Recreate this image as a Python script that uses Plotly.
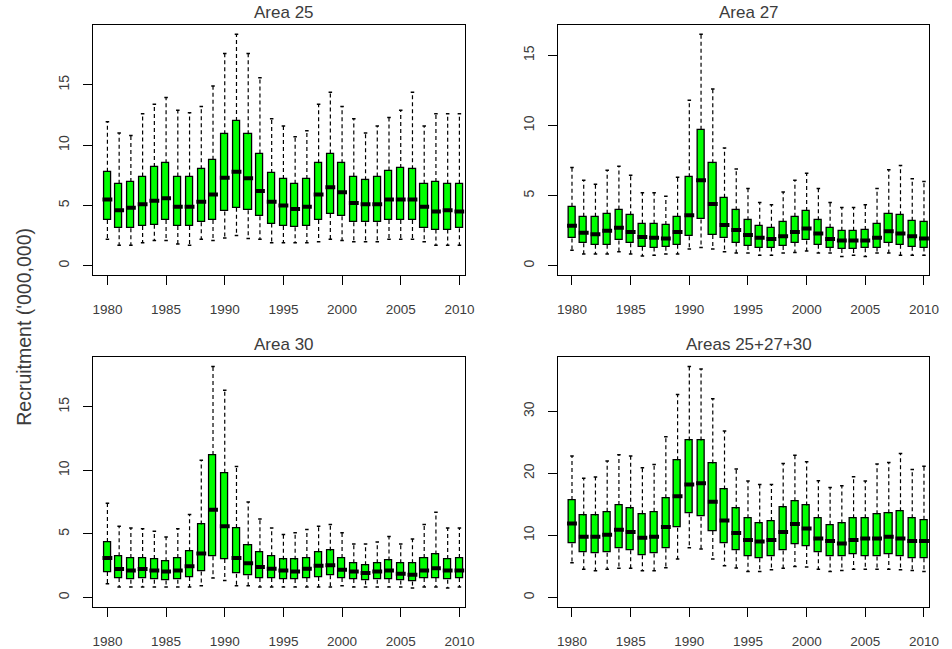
import plotly.graph_objects as go

# Recruitment boxplots by year: whisker ends, quartiles and medians ('000,000)
years = list(range(1980, 2011))
xtick_vals = [1980, 1985, 1990, 1995, 2000, 2005, 2010]

titles = ["Area 25", "Area 27", "Area 30", "Areas 25+27+30"]
ytick_sets = [[0, 5, 10, 15], [0, 5, 10, 15], [0, 5, 10, 15], [0, 10, 20, 30]]

lo25 = [2.2, 1.7, 1.7, 1.9, 2.1, 2.1, 1.8, 1.7, 2.2, 2.1, 2.3, 2.5, 2.25, 2.2, 1.9, 1.9,
        1.9, 1.9, 2.0, 2.2, 2.1, 2.0, 2.0, 2.0, 2.2, 2.2, 2.2, 2.0, 1.7, 1.7, 1.7]
q1_25 = [3.8, 3.1, 3.1, 3.3, 3.4, 3.8, 3.3, 3.3, 3.6, 3.8, 4.5, 4.8, 4.6, 4.1, 3.5, 3.3,
         3.2, 3.3, 3.8, 4.3, 4.1, 3.6, 3.6, 3.6, 3.8, 3.8, 3.8, 3.1, 3.0, 3.0, 3.1]
med25 = [5.5, 4.6, 4.8, 5.1, 5.4, 5.6, 4.9, 4.9, 5.3, 5.9, 7.3, 7.8, 7.25, 6.2, 5.3, 5.0,
         4.7, 4.9, 5.9, 6.5, 6.1, 5.2, 5.1, 5.1, 5.5, 5.5, 5.5, 4.9, 4.5, 4.6, 4.5]
q3_25 = [7.8, 6.8, 6.95, 7.4, 8.2, 8.5, 7.4, 7.4, 8.0, 8.8, 10.9, 12.0, 10.9, 9.3, 7.7, 7.2,
         6.8, 7.2, 8.5, 9.3, 8.5, 7.4, 7.1, 7.4, 7.9, 8.1, 8.0, 6.8, 6.95, 6.8, 6.8]
hi25 = [11.95, 11.0, 10.8, 12.6, 13.4, 13.95, 12.9, 12.7, 13.2, 14.9, 17.6, 19.2, 17.6, 15.6,
        12.2, 11.6, 10.7, 11.2, 13.4, 14.4, 13.2, 12.2, 11.0, 11.6, 12.3, 12.9, 14.4, 11.6,
        12.6, 12.6, 12.6]

lo27 = [1.1, 0.83, 0.83, 0.83, 1.0, 0.83, 0.7, 0.75, 0.83, 0.83, 1.2, 1.3, 1.2, 1.0, 0.9, 0.9,
        0.75, 0.75, 0.9, 0.95, 1.05, 0.9, 0.9, 0.65, 0.75, 0.65, 0.9, 0.9, 0.75, 0.75, 0.75]
q1_27 = [1.95, 1.6, 1.5, 1.5, 1.8, 1.6, 1.35, 1.3, 1.35, 1.5, 2.1, 3.3, 2.2, 1.95, 1.65, 1.4,
         1.3, 1.3, 1.4, 1.65, 1.8, 1.5, 1.3, 1.2, 1.2, 1.25, 1.3, 1.65, 1.5, 1.35, 1.3]
med27 = [2.85, 2.35, 2.25, 2.5, 2.7, 2.4, 2.05, 2.0, 1.95, 2.4, 3.6, 6.1, 4.4, 2.9, 2.55, 2.2,
         2.0, 1.9, 2.1, 2.4, 2.65, 2.3, 1.9, 1.8, 1.8, 1.8, 2.0, 2.45, 2.3, 2.1, 1.95]
q3_27 = [4.2, 3.5, 3.5, 3.7, 4.0, 3.6, 3.0, 3.0, 2.9, 3.5, 6.3, 9.7, 7.3, 4.85, 3.95, 3.25,
         2.85, 2.7, 3.1, 3.5, 3.9, 3.25, 2.7, 2.5, 2.5, 2.55, 3.0, 3.7, 3.6, 3.2, 3.1]
hi27 = [7.0, 6.1, 5.8, 6.8, 7.1, 6.45, 5.2, 5.2, 4.95, 6.3, 11.8, 16.5, 12.6, 8.4, 6.9, 5.5,
        4.5, 4.35, 5.25, 6.1, 6.6, 5.5, 4.5, 4.15, 4.15, 4.35, 5.5, 6.85, 7.15, 6.2, 6.0]

lo30 = [1.08, 0.82, 0.82, 0.82, 0.82, 0.82, 0.82, 0.82, 0.92, 1.53, 1.34, 0.92, 0.92, 0.82,
        0.82, 0.82, 0.82, 0.82, 0.82, 0.82, 0.92, 0.82, 0.82, 0.82, 0.82, 0.82, 0.74, 0.82,
        0.82, 0.74, 0.82]
q1_30 = [2.0, 1.53, 1.4, 1.47, 1.4, 1.34, 1.4, 1.6, 2.05, 3.24, 3.03, 1.87, 1.74, 1.53, 1.53,
         1.45, 1.45, 1.53, 1.6, 1.74, 1.53, 1.45, 1.34, 1.4, 1.45, 1.34, 1.26, 1.53, 1.53, 1.4,
         1.53]
med30 = [3.1, 2.24, 2.13, 2.24, 2.13, 2.05, 2.13, 2.45, 3.45, 6.9, 5.6, 3.1, 2.7, 2.4, 2.26,
         2.13, 2.05, 2.26, 2.5, 2.53, 2.18, 2.05, 1.92, 2.05, 2.13, 1.87, 1.79, 2.13, 2.3, 2.13,
         2.13]
q3_30 = [4.37, 3.24, 3.1, 3.1, 3.03, 2.84, 3.1, 3.63, 5.74, 11.2, 9.8, 5.47, 4.08, 3.55, 3.24,
         2.97, 2.97, 3.1, 3.55, 3.68, 3.1, 2.7, 2.53, 2.7, 2.9, 2.7, 2.7, 3.1, 3.37, 3.03, 3.1]
hi30 = [7.4, 5.6, 5.47, 5.4, 5.2, 4.76, 5.4, 6.53, 10.8, 18.16, 16.3, 10.3, 7.5, 6.18, 5.47,
        4.95, 5.08, 5.34, 5.6, 5.74, 5.08, 4.2, 4.2, 4.37, 4.8, 4.2, 4.6, 5.74, 6.7, 5.47, 5.47]

lo_all = [5.6, 4.55, 4.3, 4.55, 4.7, 4.7, 4.3, 4.3, 4.8, 6.2, 8.0, 7.8, 6.2, 5.1, 4.75, 4.2,
          4.2, 4.45, 4.7, 5.0, 4.9, 4.55, 4.2, 4.35, 4.55, 4.55, 4.55, 4.55, 4.45, 4.35, 4.2]
q1_all = [8.7, 7.3, 7.1, 7.2, 7.9, 7.6, 6.8, 7.1, 7.9, 11.25, 13.55, 13.0, 10.7, 8.7, 7.6, 6.7,
          6.3, 6.6, 7.55, 8.6, 8.3, 7.3, 6.6, 6.6, 7.0, 6.7, 6.6, 7.0, 6.6, 6.3, 6.3]
med_all = [11.9, 9.8, 9.8, 10.1, 10.9, 10.55, 9.6, 9.8, 11.35, 16.3, 18.2, 18.4, 15.4, 12.4,
           10.4, 9.27, 9.0, 9.27, 10.55, 11.85, 11.1, 9.5, 9.1, 8.7, 9.27, 9.5, 9.5, 9.8, 9.5,
           9.1, 9.1]
q3_all = [15.7, 13.2, 13.2, 13.8, 14.9, 14.3, 13.4, 13.8, 16.0, 22.1, 25.3, 25.3, 21.6, 17.4,
          14.3, 12.75, 11.9, 12.3, 14.5, 15.5, 14.8, 12.75, 11.7, 11.9, 12.75, 12.75, 13.4,
          13.55, 13.9, 12.75, 12.5]
hi_all = [22.8, 19.2, 19.4, 22.0, 23.0, 22.8, 20.9, 21.4, 25.9, 32.7, 37.2, 36.8, 32.0, 26.8,
          20.7, 18.75, 18.2, 18.2, 21.6, 22.9, 21.85, 18.8, 17.7, 18.0, 19.45, 18.75, 21.5,
          21.75, 23.2, 20.6, 21.15]

panels = [
    (lo25, q1_25, med25, q3_25, hi25),
    (lo27, q1_27, med27, q3_27, hi27),
    (lo30, q1_30, med30, q3_30, hi30),
    (lo_all, q1_all, med_all, q3_all, hi_all),
]

W, H = 952, 649
FONT = "Liberation Sans, Arial, sans-serif"
TEXT_COLOR = "#3c3c3c"
BOX_FILL = "#00FF00"
BOX_W = 0.6      # box width in years
STAPLE = 0.15    # half-width of whisker end caps
MED_HALF = 0.42  # half-length of median bar

# plot-region pixel boxes (left, top, right, bottom)
regions = [
    (93.3, 25.0, 469.1, 275.0),
    (563.3, 25.0, 939.1, 275.0),
    (93.3, 357.3, 469.1, 606.7),
    (563.3, 357.3, 939.1, 606.7),
]
x_range = [1978.79, 2010.45]

fig = go.Figure()
layout = dict(
    width=W, height=H,
    margin=dict(l=0, r=0, t=0, b=0),
    paper_bgcolor="white", plot_bgcolor="white",
    showlegend=False,
    font=dict(family=FONT, color=TEXT_COLOR),
    bargap=0,
)
annotations = []

for i, ((lo, q1, med, q3, hi), (l, t, r, b)) in enumerate(zip(panels, regions)):
    n = i + 1
    xa = "x" if n == 1 else f"x{n}"
    ya = "y" if n == 1 else f"y{n}"

    # dashed whiskers from the box edges to the extremes
    wx, wy = [], []
    for yr, a, b1, c, d in zip(years, lo, q1, q3, hi):
        wx += [yr, yr, None, yr, yr, None]
        wy += [c, d, None, b1, a, None]
    fig.add_trace(go.Scatter(x=wx, y=wy, mode="lines", xaxis=xa, yaxis=ya,
                             line=dict(color="black", width=1.2, dash="4px,3px"),
                             hoverinfo="skip"))

    # whisker end caps
    sx, sy = [], []
    for yr, a, d in zip(years, lo, hi):
        sx += [yr - STAPLE, yr + STAPLE, None, yr - STAPLE, yr + STAPLE, None]
        sy += [d, d, None, a, a, None]
    fig.add_trace(go.Scatter(x=sx, y=sy, mode="lines", xaxis=xa, yaxis=ya,
                             line=dict(color="black", width=1.5), hoverinfo="skip"))

    # interquartile boxes
    fig.add_trace(go.Bar(x=years, y=[c - b1 for b1, c in zip(q1, q3)], base=q1,
                         width=BOX_W, xaxis=xa, yaxis=ya,
                         marker=dict(color=BOX_FILL, line=dict(color="black", width=1.3)),
                         hoverinfo="skip"))

    # medians
    mx, my = [], []
    for yr, m in zip(years, med):
        mx += [yr - MED_HALF, yr + MED_HALF, None]
        my += [m, m, None]
    fig.add_trace(go.Scatter(x=mx, y=my, mode="lines", xaxis=xa, yaxis=ya,
                             line=dict(color="black", width=4), hoverinfo="skip"))

    ymax = max(hi)
    common = dict(showgrid=False, zeroline=False, showline=True, mirror=True,
                  linecolor="black", linewidth=1.3, ticks="outside", ticklen=9,
                  tickwidth=1.2, tickcolor="black", fixedrange=True)
    layout["xaxis" if n == 1 else f"xaxis{n}"] = dict(
        common, domain=[l / W, r / W], range=x_range, anchor=ya,
        tickmode="array", tickvals=xtick_vals, ticktext=[str(v) for v in xtick_vals],
        tickfont=dict(size=13.5, color=TEXT_COLOR, family=FONT), ticklabelstandoff=13)
    layout["yaxis" if n == 1 else f"yaxis{n}"] = dict(
        common, domain=[1 - b / H, 1 - t / H], range=[-0.04 * ymax, 1.04 * ymax],
        anchor=xa, tickmode="array", tickvals=ytick_sets[i],
        ticktext=[str(v) for v in ytick_sets[i]], tickangle=-90,
        tickfont=dict(size=14, color=TEXT_COLOR, family=FONT), ticklabelstandoff=8)

    annotations.append(dict(text=titles[i], xref="paper", yref="paper",
                            x=(l + r) / 2 / W, y=1 - (t - 1) / H,
                            xanchor="center", yanchor="bottom", xshift=5, showarrow=False,
                            font=dict(size=17, color=TEXT_COLOR, family=FONT)))

annotations.append(dict(text="Recruitment ('000,000)", xref="paper", yref="paper",
                        x=23 / W, y=1 - 327 / H, textangle=-90,
                        xanchor="center", yanchor="middle", showarrow=False,
                        font=dict(size=19.5, color=TEXT_COLOR, family=FONT)))
layout["annotations"] = annotations

fig.update_layout(**layout)
fig.write_html("out.html")
